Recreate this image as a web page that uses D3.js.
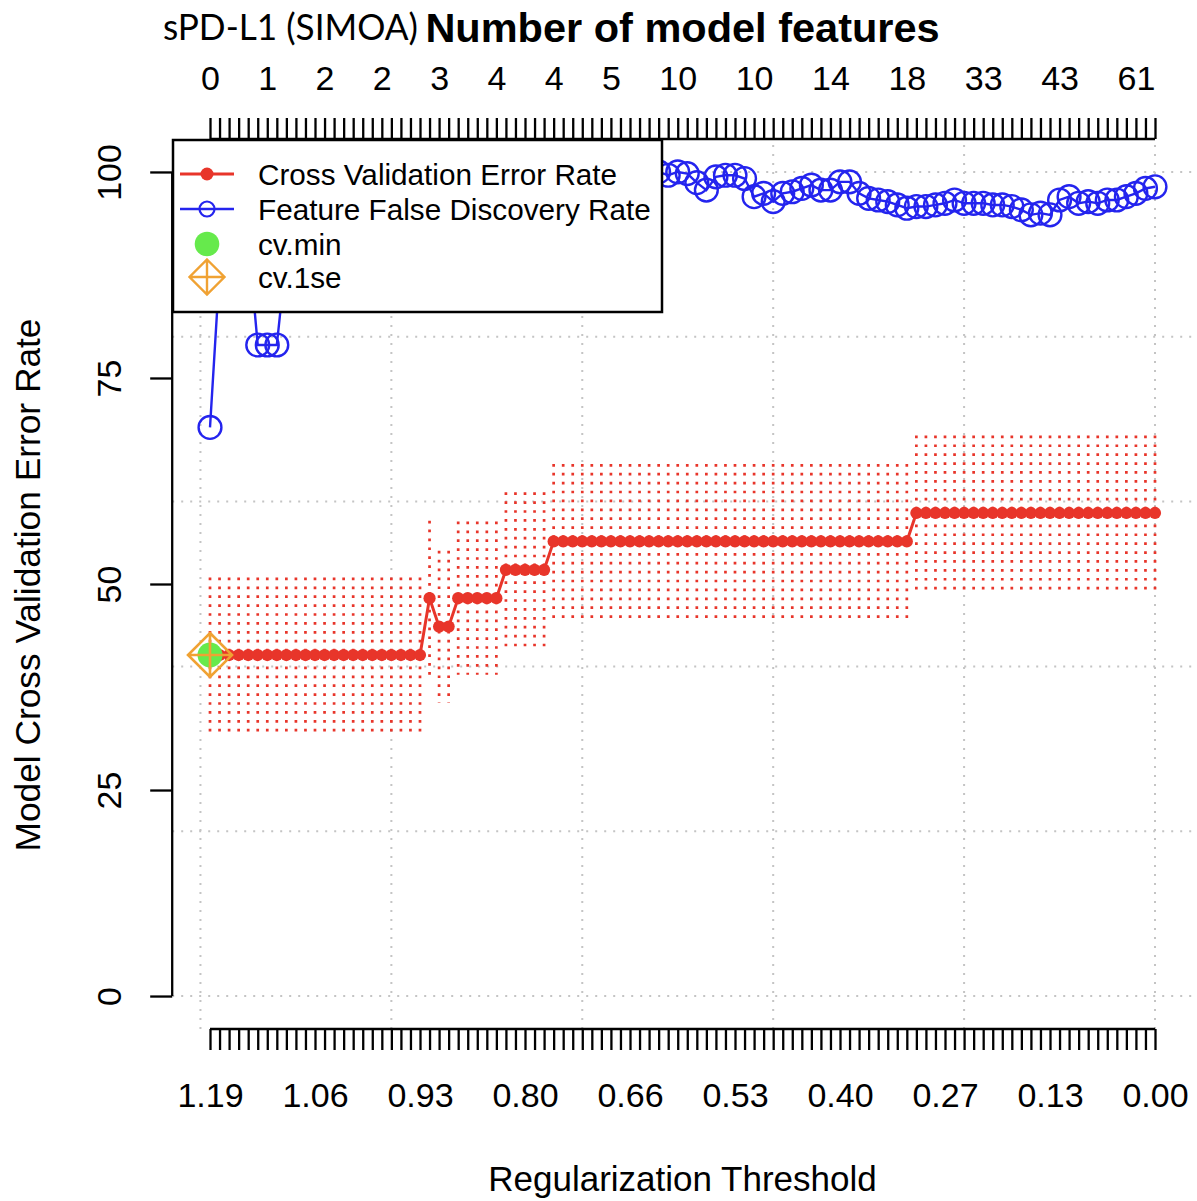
<!DOCTYPE html>
<html>
<head>
<meta charset="utf-8">
<script src="https://cdn.jsdelivr.net/npm/d3@7"></script>
<style>
  html, body { margin: 0; padding: 0; background: #fff; }
  svg { display: block; font-family: "Liberation Sans", Arial, sans-serif; }
</style>
</head>
<body>
<svg id="chart" width="1197" height="1201"></svg>
<script>
// ---------------- DATA ----------------
// Cross-validation error rate (%) at each of the 100 regularization steps
const cvError = [
  41.38,41.38,41.38,41.38,41.38,41.38,41.38,41.38,41.38,41.38,
  41.38,41.38,41.38,41.38,41.38,41.38,41.38,41.38,41.38,41.38,
  41.38,41.38,41.38,48.28,44.83,44.83,48.28,48.28,48.28,48.28,
  48.28,51.72,51.72,51.72,51.72,51.72,55.17,55.17,55.17,55.17,
  55.17,55.17,55.17,55.17,55.17,55.17,55.17,55.17,55.17,55.17,
  55.17,55.17,55.17,55.17,55.17,55.17,55.17,55.17,55.17,55.17,
  55.17,55.17,55.17,55.17,55.17,55.17,55.17,55.17,55.17,55.17,
  55.17,55.17,55.17,55.17,58.62,58.62,58.62,58.62,58.62,58.62,
  58.62,58.62,58.62,58.62,58.62,58.62,58.62,58.62,58.62,58.62,
  58.62,58.62,58.62,58.62,58.62,58.62,58.62,58.62,58.62,58.62
];
// Standard error of the CV error (half-height of the dotted bars)
const cvSE = [
  9.4,9.4,9.4,9.4,9.4,9.4,9.4,9.4,9.4,9.4,
  9.4,9.4,9.4,9.4,9.4,9.4,9.4,9.4,9.4,9.4,
  9.4,9.4,9.4,9.4,9.2,9.2,9.3,9.3,9.3,9.3,
  9.3,9.4,9.4,9.4,9.4,9.4,9.4,9.4,9.4,9.4,
  9.4,9.4,9.4,9.4,9.4,9.4,9.4,9.4,9.4,9.4,
  9.4,9.4,9.4,9.4,9.4,9.4,9.4,9.4,9.4,9.4,
  9.4,9.4,9.4,9.4,9.4,9.4,9.4,9.4,9.4,9.4,
  9.4,9.4,9.4,9.4,9.4,9.4,9.4,9.4,9.4,9.4,
  9.4,9.4,9.4,9.4,9.4,9.4,9.4,9.4,9.4,9.4,
  9.4,9.4,9.4,9.4,9.4,9.4,9.4,9.4,9.4,9.4
];
// Feature false discovery rate (%)
const fdr = [
  69, 88, 95, 97, 92, 79, 79, 79, 90, 95,
  97, 98, 96, 97, 99, 98, 97, 98, 99, 98,
  97, 98, 99, 97, 96, 97, 98, 99, 98, 97,
  98, 99, 98, 99, 100, 99, 98, 99, 100, 99,
  99, 100, 99, 100, 100, 100, 99.5, 100, 99.6, 100,
  99.8, 98.7, 97.8, 99.4, 99.6, 99.6, 99.2, 97.0, 97.4, 96.4,
  97.4, 97.6, 98.0, 98.4, 97.8, 97.8, 98.8, 98.8, 97.4, 96.8,
  96.6, 96.4, 96.0, 95.6, 95.8, 95.8, 96.0, 96.2, 96.6, 96.2,
  96.2, 96.2, 96.0, 96.0, 95.8, 95.4, 94.8, 95.0, 94.8, 96.6,
  97.0, 96.2, 96.4, 96.2, 96.6, 96.6, 97.0, 97.4, 98.0, 98.2
];
const stepIndex = d3.range(cvError.length);          // regularization step (category)
const bottomTickIndex  = [0, 11, 22, 33, 44, 55, 66, 77, 88, 99];
const bottomTickLabels = ["1.19","1.06","0.93","0.80","0.66","0.53","0.40","0.27","0.13","0.00"];
const topTickIndex  = [0, 6, 12, 18, 24, 30, 36, 42, 49, 57, 65, 73, 81, 89, 97];
const topTickLabels = ["0","1","2","2","3","4","4","5","10","10","14","18","33","43","61"];
const yTicks = [0, 25, 50, 75, 100];
const gridY = [0, 20, 40, 60, 80, 100];
const gridX = [-1, 19, 39, 59, 79, 99];
const cvMinIndex = 0;
const cv1seIndex = 0;
const legendLabels = ["Cross Validation Error Rate", "Feature False Discovery Rate", "cv.min", "cv.1se"];

// ---------------- STYLE ----------------
const RED = "#e8352a", BLUE = "#2424ee", GREEN = "#66ea4c", ORANGE = "#f0a233";

const svg = d3.select("#chart");
const x = d3.scaleLinear().domain([-3.96, 102.96]).range([172.2, 1192.8]);
const y = d3.scaleLinear().domain([-4, 104]).range([1029, 139]);

// grid
const grid = svg.append("g").attr("stroke", "#c4c4c4").attr("stroke-width", 2)
  .attr("stroke-dasharray", "2 7");
grid.selectAll(".gy").data(gridY).join("line")
  .attr("x1", x.range()[0]).attr("x2", x.range()[1])
  .attr("y1", d => y(d)).attr("y2", d => y(d));
grid.selectAll(".gx").data(gridX).join("line")
  .attr("x1", d => x(d)).attr("x2", d => x(d))
  .attr("y1", y.range()[0]).attr("y2", y.range()[1]);

// error bars (dotted)
svg.append("g").attr("stroke", RED).attr("stroke-width", 2.7)
  .attr("stroke-dasharray", "2.7 6.2")
  .selectAll("line").data(stepIndex).join("line")
  .attr("x1", i => x(i)).attr("x2", i => x(i))
  .attr("y1", i => y(cvError[i] + cvSE[i]))
  .attr("y2", i => y(cvError[i] - cvSE[i]));

// CV error line + points
svg.append("path").datum(stepIndex)
  .attr("fill", "none").attr("stroke", RED).attr("stroke-width", 3)
  .attr("d", d3.line().x(i => x(i)).y(i => y(cvError[i])));
svg.append("g").attr("fill", RED).selectAll("circle").data(stepIndex).join("circle")
  .attr("cx", i => x(i)).attr("cy", i => y(cvError[i])).attr("r", 6.1);

// FDR line + open circles
svg.append("path").datum(stepIndex)
  .attr("fill", "none").attr("stroke", BLUE).attr("stroke-width", 2.4)
  .attr("d", d3.line().x(i => x(i)).y(i => y(fdr[i])));
svg.append("g").attr("fill", "none").attr("stroke", BLUE).attr("stroke-width", 2.4)
  .selectAll("circle").data(stepIndex).join("circle")
  .attr("cx", i => x(i)).attr("cy", i => y(fdr[i])).attr("r", 11.4);

// cv.min / cv.1se markers
function diamondPlus(g, cx, cy, h, sw) {
  g.append("path").attr("fill", "none").attr("stroke", ORANGE).attr("stroke-width", sw)
    .attr("stroke-linejoin", "miter")
    .attr("d", `M${cx},${cy-h}L${cx+h},${cy}L${cx},${cy+h}L${cx-h},${cy}Z` +
               `M${cx},${cy-h}L${cx},${cy+h}M${cx-h},${cy}L${cx+h},${cy}`);
}
svg.append("circle").attr("cx", x(cvMinIndex)).attr("cy", y(cvError[cvMinIndex]))
  .attr("r", 12.5).attr("fill", GREEN);
diamondPlus(svg.append("g"), x(cv1seIndex), y(cvError[cv1seIndex]), 22, 2.6);

// ---------------- AXES ----------------
const axisStroke = 2.3;
// bottom
const gb = svg.append("g").attr("transform", `translate(0,${y.range()[0]})`)
  .call(d3.axisBottom(x).tickValues(stepIndex).tickSize(21).tickPadding(33)
    .tickFormat(i => { const k = bottomTickIndex.indexOf(i); return k >= 0 ? bottomTickLabels[k] : ""; }));
gb.select(".domain").remove();
gb.append("line").attr("x1", x(0)).attr("x2", x(99)).attr("stroke", "#000").attr("stroke-width", axisStroke);
// top
const gt = svg.append("g").attr("transform", `translate(0,${y.range()[1]})`)
  .call(d3.axisTop(x).tickValues(stepIndex).tickSize(21).tickPadding(28)
    .tickFormat(i => { const k = topTickIndex.indexOf(i); return k >= 0 ? topTickLabels[k] : ""; }));
gt.select(".domain").remove();
gt.append("line").attr("x1", x(0)).attr("x2", x(99)).attr("stroke", "#000").attr("stroke-width", axisStroke);
// left
const gl = svg.append("g").attr("transform", `translate(${x.range()[0]},0)`)
  .call(d3.axisLeft(y).tickValues(yTicks).tickSize(22).tickFormat(d3.format("d")));
gl.select(".domain").remove();
gl.append("line").attr("y1", y(0)).attr("y2", y(100)).attr("stroke", "#000").attr("stroke-width", axisStroke);
gl.selectAll(".tick text").attr("x", null).attr("dy", null)
  .attr("text-anchor", "middle").attr("transform", "translate(-51,0) rotate(-90)");

[gb, gt, gl].forEach(g => {
  g.selectAll(".tick line").attr("stroke", "#000").attr("stroke-width", axisStroke);
  g.selectAll(".tick text").attr("font-size", 34).attr("fill", "#000")
    .attr("font-family", "'Liberation Sans', Arial, sans-serif");
});

// titles
svg.append("text").attr("x", 682.5).attr("y", 1191).attr("text-anchor", "middle")
  .attr("font-size", 35).text("Regularization Threshold");
svg.append("text").attr("transform", `translate(40,585) rotate(-90)`).attr("text-anchor", "middle")
  .attr("font-size", 35.3).text("Model Cross Validation Error Rate");
svg.append("text").attr("x", 682.5).attr("y", 42).attr("text-anchor", "middle")
  .attr("font-size", 41.5).attr("font-weight", "bold").text("Number of model features");
svg.append("text").attr("x", 163).attr("y", 40)
  .attr("font-family", "Lato, 'Open Sans', sans-serif").attr("font-size", 36)
  .attr("textLength", 255).attr("lengthAdjust", "spacingAndGlyphs")
  .text("sPD-L1 (SIMOA)");

// ---------------- LEGEND ----------------
const lg = svg.append("g");
lg.append("rect").attr("x", 173).attr("y", 140).attr("width", 489).attr("height", 172)
  .attr("fill", "#fff").attr("stroke", "#000").attr("stroke-width", 2.5);
const legY = [174, 209, 244, 277];
const symX = 207;
lg.append("line").attr("x1", 180).attr("x2", 234).attr("y1", legY[0]).attr("y2", legY[0])
  .attr("stroke", RED).attr("stroke-width", 3);
lg.append("circle").attr("cx", symX).attr("cy", legY[0]).attr("r", 6.5).attr("fill", RED);
lg.append("line").attr("x1", 180).attr("x2", 234).attr("y1", legY[1]).attr("y2", legY[1])
  .attr("stroke", BLUE).attr("stroke-width", 2.4);
lg.append("circle").attr("cx", symX).attr("cy", legY[1]).attr("r", 7.5)
  .attr("fill", "none").attr("stroke", BLUE).attr("stroke-width", 2.2);
lg.append("circle").attr("cx", symX).attr("cy", legY[2]).attr("r", 12.3).attr("fill", GREEN);
diamondPlus(lg, symX, legY[3], 17.5, 2.4);
lg.selectAll("text.leg").data(legendLabels).join("text")
  .attr("x", 258).attr("y", (d, i) => legY[i] + 10.5)
  .attr("font-size", 29.7).attr("fill", "#000").text(d => d);
</script>
</body>
</html>
